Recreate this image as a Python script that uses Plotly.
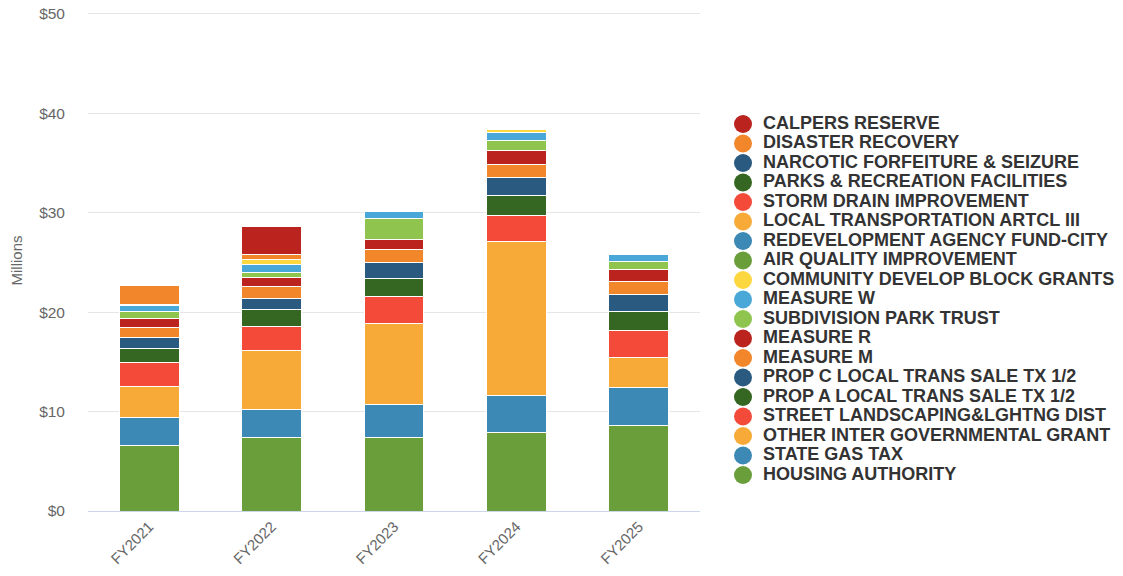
import plotly.graph_objects as go

years = ["FY2021", "FY2022", "FY2023", "FY2024", "FY2025"]
y_ticks = [0, 10, 20, 30, 40, 50]
y_tick_labels = ["$0", "$10", "$20", "$30", "$40", "$50"]

# stacked bottom -> top, values in $ millions
housing_authority = [6.64, 7.41, 7.41, 7.88, 8.65]
state_gas_tax = [2.75, 2.85, 3.35, 3.76, 3.75]
other_inter_gov_grant = [3.15, 5.91, 8.12, 15.52, 3.02]
street_landscaping = [2.38, 2.41, 2.72, 2.55, 2.72]
prop_a = [1.38, 1.67, 1.81, 1.98, 1.98]
prop_c = [1.20, 1.15, 1.54, 1.81, 1.61]
measure_m = [0.94, 1.14, 1.31, 1.38, 1.38]
measure_r = [0.88, 1.00, 1.07, 1.34, 1.21]
subdivision_park = [0.77, 0.47, 2.08, 1.07, 0.73]
measure_w = [0.63, 0.74, 0.77, 0.77, 0.77]
cdbg = [0.10, 0.55, 0.0, 0.30, 0.0]
air_quality = [0, 0, 0, 0, 0]
redevelopment = [0, 0, 0, 0, 0]
local_transport = [0, 0, 0, 0, 0]
storm_drain = [0, 0, 0, 0, 0]
parks_rec = [0, 0, 0, 0, 0]
narcotic = [0, 0, 0, 0, 0]
disaster_recovery = [1.85, 0.52, 0, 0, 0]
calpers_reserve = [0, 2.80, 0, 0, 0]

series = [
    ("HOUSING AUTHORITY", housing_authority),
    ("STATE GAS TAX", state_gas_tax),
    ("OTHER INTER GOVERNMENTAL GRANT", other_inter_gov_grant),
    ("STREET LANDSCAPING&LGHTNG DIST", street_landscaping),
    ("PROP A LOCAL TRANS SALE TX 1/2", prop_a),
    ("PROP C LOCAL TRANS SALE TX 1/2", prop_c),
    ("MEASURE M", measure_m),
    ("MEASURE R", measure_r),
    ("SUBDIVISION PARK TRUST", subdivision_park),
    ("MEASURE W", measure_w),
    ("COMMUNITY DEVELOP BLOCK GRANTS", cdbg),
    ("AIR QUALITY IMPROVEMENT", air_quality),
    ("REDEVELOPMENT AGENCY FUND-CITY", redevelopment),
    ("LOCAL TRANSPORTATION ARTCL III", local_transport),
    ("STORM DRAIN IMPROVEMENT", storm_drain),
    ("PARKS & RECREATION FACILITIES", parks_rec),
    ("NARCOTIC FORFEITURE & SEIZURE", narcotic),
    ("DISASTER RECOVERY", disaster_recovery),
    ("CALPERS RESERVE", calpers_reserve),
]

palette = ["#6a9e3a", "#3c89b5", "#f7aa38", "#f44a3a", "#356622", "#2b5a80",
           "#f2862b", "#bb231f", "#8fc54e", "#4aa8d8", "#fdd740"]
colors = [palette[i % len(palette)] for i in range(len(series))]

font = "Liberation Sans, Arial, sans-serif"

fig = go.Figure()

for (name, vals), c in zip(series, colors):
    fig.add_trace(go.Bar(
        x=years, y=vals, name=name,
        marker=dict(color=c, line=dict(color="white", width=1)),
        showlegend=False,
    ))

# legend drawn as a list on a side axis: top of stack first, round markers
leg_names = [s[0] for s in series][::-1]
leg_colors = colors[::-1]
leg_rank = list(range(len(leg_names)))
fig.add_trace(go.Scatter(
    x=[0] * len(leg_names), y=leg_rank,
    mode="markers", xaxis="x2", yaxis="y2",
    marker=dict(color=leg_colors, size=18, symbol="circle"),
    hoverinfo="skip", showlegend=False,
))
fig.add_trace(go.Scatter(
    x=[20] * len(leg_names), y=leg_rank, text=leg_names,
    mode="text", textposition="middle right", xaxis="x2", yaxis="y2",
    textfont=dict(size=18, color="#333333", family=font, weight="bold"),
    hoverinfo="skip", showlegend=False,
))

fig.update_layout(
    barmode="stack",
    bargap=0.51,
    width=1123, height=576,
    margin=dict(l=88, r=0, t=10, b=65),
    plot_bgcolor="white",
    paper_bgcolor="white",
    font=dict(family=font, color="#666666"),
    showlegend=False,
    xaxis=dict(
        domain=[0, 612 / 1035],
        tickangle=-45,
        tickfont=dict(size=15, color="#666666"),
        showline=True, linecolor="#ccd6eb", linewidth=1,
        showgrid=False, automargin=False,
    ),
    yaxis=dict(
        range=[0, 50.4], tickvals=y_ticks, ticktext=y_tick_labels,
        tickfont=dict(size=15.5, color="#666666"),
        gridcolor="#e6e6e6", zeroline=False,
        ticklabelstandoff=22, automargin=False, ticklabeloverflow="allow",
        title=dict(text="Millions", font=dict(size=15, color="#666666"), standoff=12),
    ),
    xaxis2=dict(domain=[620 / 1035, 1], anchor="y2", range=[-35, 380],
                visible=False, fixedrange=True),
    yaxis2=dict(domain=[0, 1], anchor="x2", range=[19.846, -5.846],
                visible=False, fixedrange=True),
)

fig.write_html("out.html", config={"displayModeBar": False},
               post_script="document.body.style.margin='0';")
